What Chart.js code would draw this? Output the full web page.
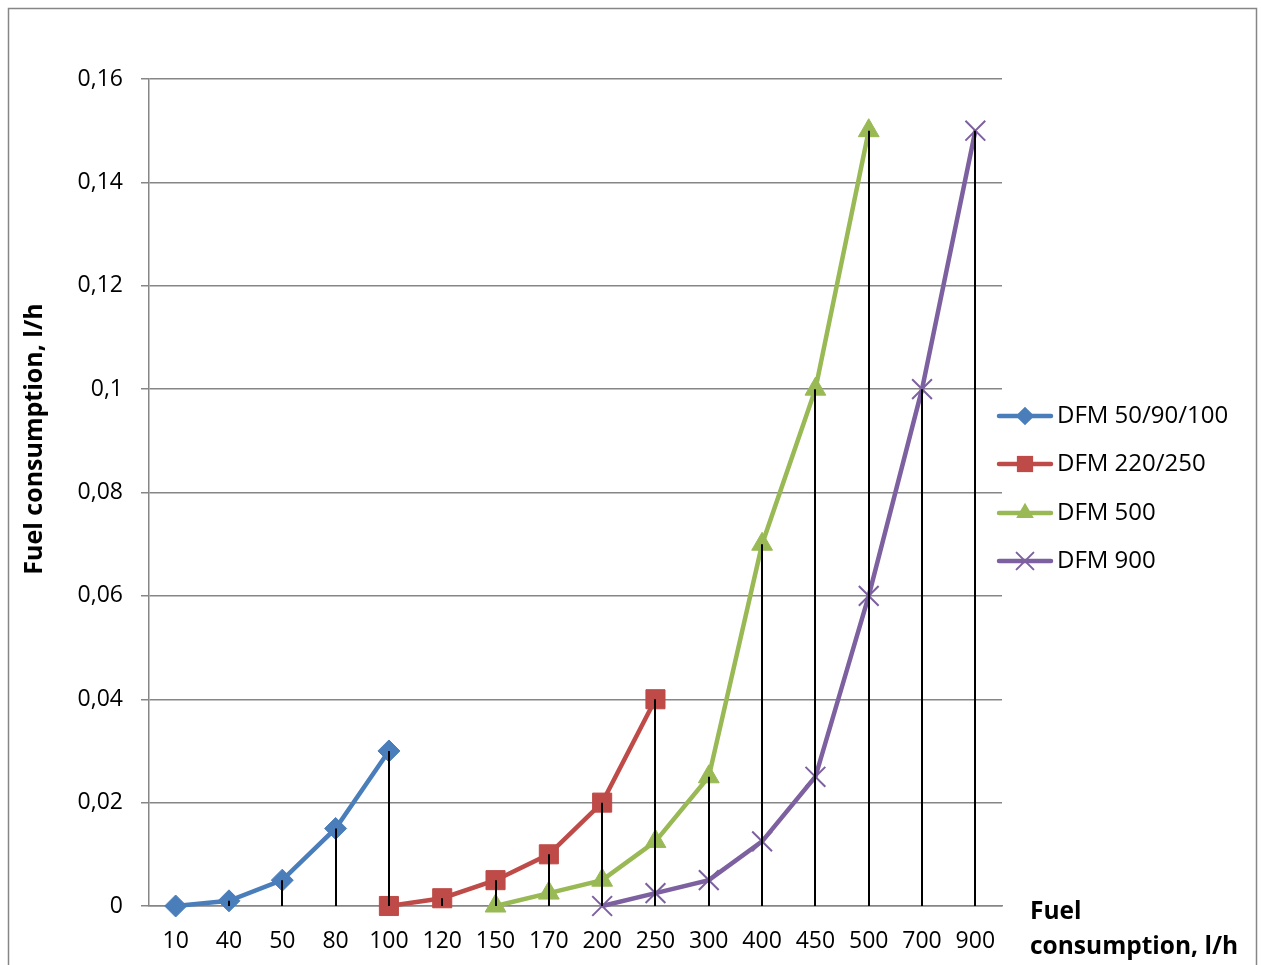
<!DOCTYPE html>
<html><head><meta charset="utf-8">
<script src="https://cdn.jsdelivr.net/npm/chart.js@4/dist/chart.umd.min.js"></script>
<style>html,body{margin:0;padding:0;background:#fff}</style>
</head><body>
<canvas id="c" width="1261" height="965"></canvas>
<script>
const categories = ['10','40','50','80','100','120','150','170','200','250','300','400','450','500','700','900'];
const seriesNames = ['DFM 50/90/100','DFM 220/250','DFM 500','DFM 900'];
const dfm50  = [0,0.001,0.005,0.015,0.03,null,null,null,null,null,null,null,null,null,null,null];
const dfm220 = [null,null,null,null,0,0.0015,0.005,0.01,0.02,0.04,null,null,null,null,null,null];
const dfm500 = [null,null,null,null,null,null,0,0.0025,0.005,0.0125,0.025,0.07,0.1,0.15,null,null];
const dfm900 = [null,null,null,null,null,null,null,null,0,0.0025,0.005,0.0125,0.025,0.06,0.1,0.15];
const yTitle = 'Fuel consumption, l/h';
const xTitleLines = ['Fuel','consumption, l/h'];

const colors = ['#4A7EBB','#BE4B48','#98B954','#7D60A0'];
const styles = ['rectRot','rect','triangle','crossRot'];
const radii = [11,13.5,12,14];
const FONT = '"Open Sans", "Liberation Sans", sans-serif';
const GRID = '#868686';

function ds(i, data){
  return {label: seriesNames[i], data, borderColor: colors[i], backgroundColor: colors[i],
    borderWidth: 4.5, pointStyle: styles[i], pointRadius: radii[i], pointHoverRadius: radii[i],
    pointBorderWidth: styles[i]==='crossRot'?2:1, pointBackgroundColor: colors[i], pointBorderColor: colors[i],
    tension: 0, clip: false, spanGaps: false};
}

function drawMarker(ctx, style, x, y, r, color){
  ctx.save();
  ctx.fillStyle = color; ctx.strokeStyle = color;
  ctx.beginPath();
  if (style==='rectRot'){ ctx.moveTo(x, y-r); ctx.lineTo(x+r, y); ctx.lineTo(x, y+r); ctx.lineTo(x-r, y); ctx.closePath(); ctx.fill(); }
  else if (style==='rect'){ const s=r*Math.SQRT1_2; ctx.rect(x-s,y-s,2*s,2*s); ctx.fill(); }
  else if (style==='triangle'){ const w=r*Math.sqrt(3)/2; ctx.moveTo(x, y-r); ctx.lineTo(x+w, y+r/2); ctx.lineTo(x-w, y+r/2); ctx.closePath(); ctx.fill(); }
  else { const d=r*Math.SQRT1_2; ctx.lineWidth=2; ctx.moveTo(x-d,y-d); ctx.lineTo(x+d,y+d); ctx.moveTo(x+d,y-d); ctx.lineTo(x-d,y+d); ctx.stroke(); }
  ctx.restore();
}

const extras = {
  id: 'extras',
  beforeDraw(chart){
    const ctx = chart.ctx;
    ctx.save(); ctx.strokeStyle = GRID; ctx.lineWidth = 1.5;
    ctx.strokeRect(8.5, 8.5, 1248, 1100);
    ctx.restore();
  },
  afterDatasetsDraw(chart){
    const ctx = chart.ctx, xs = chart.scales.x, ys = chart.scales.y;
    const all = [dfm50, dfm220, dfm500, dfm900];
    ctx.save(); ctx.strokeStyle = '#000'; ctx.lineWidth = 2;
    categories.forEach((c, i) => {
      let m = null;
      all.forEach(a => { if (a[i] !== null && (m === null || a[i] > m)) m = a[i]; });
      if (m === null || m === 0) return;
      const x = Math.round(xs.getPixelForValue(i));
      ctx.beginPath(); ctx.moveTo(x, ys.getPixelForValue(m)); ctx.lineTo(x, ys.getPixelForValue(0)); ctx.stroke();
    });
    ctx.restore();
  },
  afterDraw(chart){
    const ctx = chart.ctx;
    ctx.save();
    // legend
    const ly = [416, 464, 513, 561];
    seriesNames.forEach((n, i) => {
      const y = ly[i];
      ctx.strokeStyle = colors[i]; ctx.lineWidth = 4.5; ctx.lineCap = 'round';
      ctx.beginPath(); ctx.moveTo(999, y); ctx.lineTo(1051, y); ctx.stroke();
      drawMarker(ctx, styles[i], 1025, y, radii[i]*0.85, colors[i]);
      ctx.fillStyle = '#000'; ctx.font = '24px ' + FONT; ctx.textBaseline = 'middle'; ctx.textAlign = 'left';
      ctx.fillText(n, 1057, y);
    });
    // y title
    ctx.save();
    ctx.translate(35, 439); ctx.rotate(-Math.PI/2);
    ctx.font = 'bold 25px ' + FONT; ctx.textAlign = 'center'; ctx.textBaseline = 'middle'; ctx.fillStyle = '#000';
    ctx.fillText(yTitle, 0, 0);
    ctx.restore();
    // x title
    ctx.font = 'bold 24.5px ' + FONT; ctx.textAlign = 'left'; ctx.textBaseline = 'middle'; ctx.fillStyle = '#000';
    ctx.fillText(xTitleLines[0], 1030, 912);
    ctx.fillText(xTitleLines[1], 1030, 947);
    ctx.restore();
  }
};

new Chart(document.getElementById('c'), {
  type: 'line',
  data: { labels: categories, datasets: [ds(0, dfm50), ds(1, dfm220), ds(2, dfm500), ds(3, dfm900)] },
  options: {
    responsive: false, animation: false, events: [],
    layout: { padding: { left: 0, top: 79, right: 259, bottom: 0 } },
    plugins: { legend: { display: false }, tooltip: { enabled: false } },
    scales: {
      x: {
        offset: true,
        grid: { display: false, drawTicks: false },
        border: { display: true, color: GRID, width: 1.5 },
        ticks: { color: '#000', font: { family: FONT, size: 23 }, padding: 22, maxRotation: 0, autoSkip: false },
        afterFit(s){ s.height = 59; }
      },
      y: {
        min: 0, max: 0.16,
        grid: { color: GRID, lineWidth: 1.5, tickLength: 8, drawTicks: true },
        border: { display: true, color: GRID, width: 1.5 },
        ticks: { stepSize: 0.02, color: '#000', font: { family: FONT, size: 23 }, padding: 18,
          callback: v => String(Math.round(v*100)/100).replace('.', ',') },
        afterFit(s){ s.width = 149; }
      }
    }
  },
  plugins: [extras]
});
</script>
</body></html>
